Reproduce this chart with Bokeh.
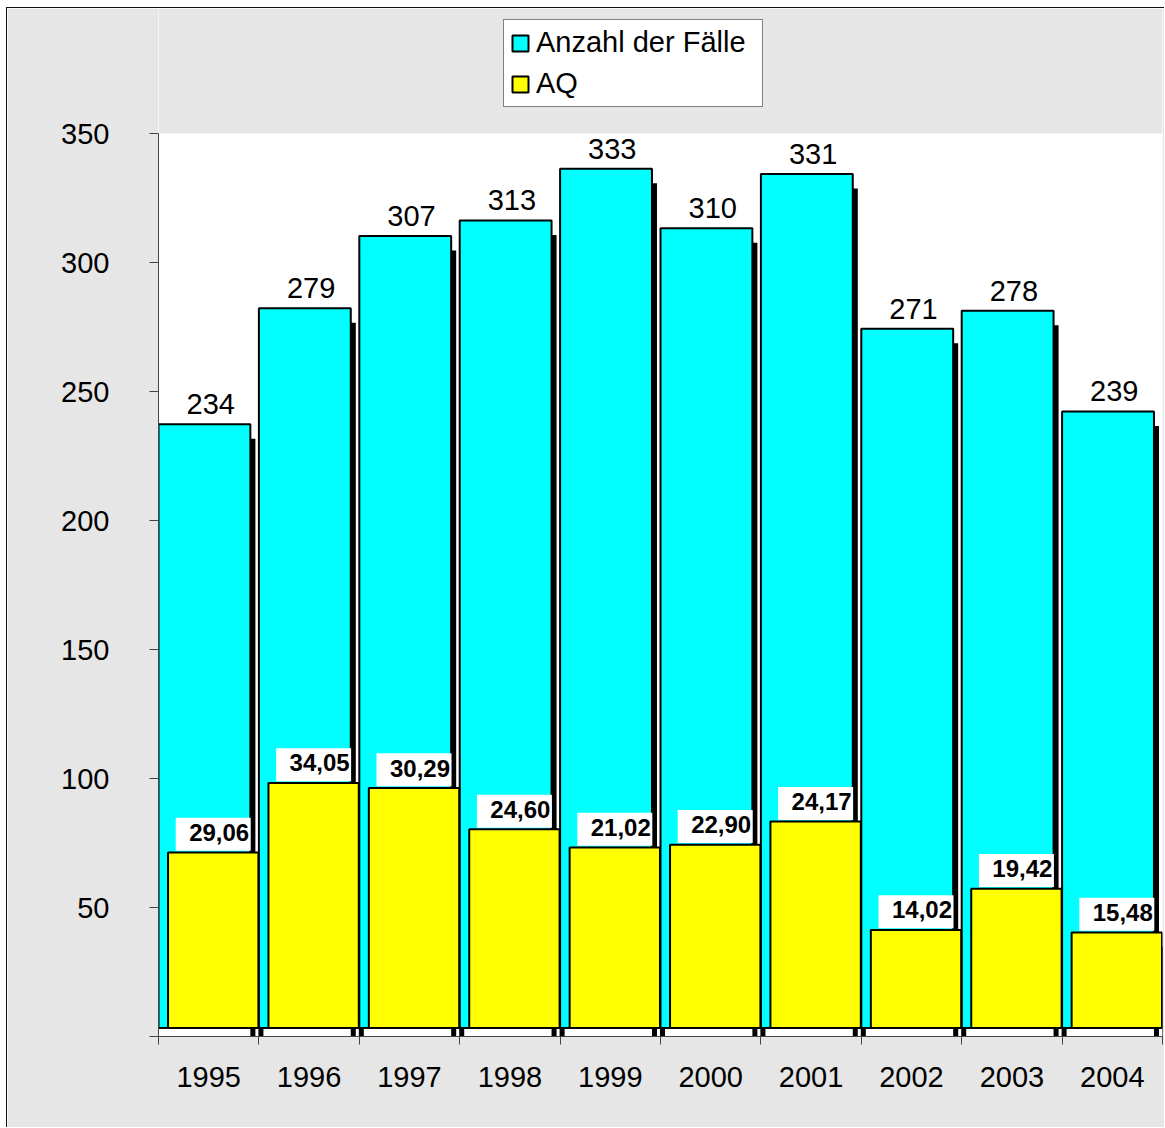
import numpy as np
from bokeh.plotting import figure
from bokeh.models import FixedTicker, Range1d, Legend, LegendItem, BoxAnnotation
from bokeh.core.properties import value
from bokeh.embed import file_html
from bokeh.resources import INLINE

# ---- data ----
years = ["1995", "1996", "1997", "1998", "1999", "2000", "2001", "2002", "2003", "2004"]
faelle = [234, 279, 307, 313, 333, 310, 331, 271, 278, 239]          # Anzahl der Fälle
aq_faelle = [68, 95, 93, 77, 70, 71, 80, 38, 54, 37]                 # AQ bar heights (cases)
aq_labels = ["29,06", "34,05", "30,29", "24,60", "21,02", "22,90", "24,17", "14,02", "19,42", "15,48"]
y_ticks = [0, 50, 100, 150, 200, 250, 300, 350]

FONT = "Liberation Sans"
CYAN = "#00FFFF"
YELLOW = "#FFFF00"
BG = "#e6e6e6"

n = len(years)
idx = np.arange(n, dtype=float)
f = np.array(faelle, dtype=float)
a = np.array(aq_faelle, dtype=float)

Y_MAX = 350.0
ppu = 903.0 / Y_MAX             # pixels per data unit (vertical)
ppx = 100.4                     # pixels per category (horizontal)
FRAME_H = 1028.0
lift = 8.5 / ppu                # 3D front-face lift
drop = 6.0 / ppu                # shadow top drop

p = figure(width=1158, height=1120, output_backend="svg", toolbar_location=None,
           x_range=Range1d(0, n), y_range=Range1d(0, FRAME_H / ppu),
           min_border_left=151, min_border_right=3, min_border_top=0, min_border_bottom=92)
p.border_fill_color = BG
p.background_fill_color = "white"
p.outline_line_color = None
p.xgrid.visible = False
p.ygrid.visible = False
p.styles = {"margin-left": "6px", "margin-top": "7px",
            "border-left": "1px solid #111", "border-top": "1px solid #111"}

# textured area above the plot region
p.add_layout(BoxAnnotation(bottom=Y_MAX, fill_color=BG, fill_alpha=1.0, line_color=None, level="underlay"))

# shadows (3D sides)
p.quad(left=idx + 0.915, right=idx + 0.965, bottom=0, top=f - drop,
       fill_color="black", line_color=None)
p.quad(left=idx + 0.995, right=idx + 1.045, bottom=0, top=a - drop,
       fill_color="black", line_color=None)
# front faces
r_cyan = p.quad(left=idx, right=idx + 0.915, bottom=lift, top=f + lift,
                fill_color=CYAN, line_color="black", line_width=2)
r_yel = p.quad(left=idx + 0.095, right=idx + 0.995, bottom=lift, top=a + lift,
               fill_color=YELLOW, line_color="black", line_width=2)

# value labels on cyan bars
p.text(x=idx + 0.52, y=f + lift + 20.0 / ppu, text=[str(v) for v in faelle],
       text_font=value(FONT), text_font_size="29px", text_color="black",
       text_align="center", text_baseline="alphabetic")

# AQ labels with white boxes
p.rect(x=idx + 0.545, y=a + lift + 18.2 / ppu, width=75, height=33,
       width_units="screen", height_units="screen",
       fill_color="white", line_color=None)
p.text(x=idx + 0.545 + 36.0 / ppx, y=a + lift + 20.0 / ppu, text=aq_labels,
       text_font=value(FONT), text_font_size="24px", text_font_style="bold",
       text_color="black", text_align="right", text_baseline="alphabetic")

# axes
ax_col = "#444444"
p.yaxis.bounds = (0, Y_MAX)
p.yaxis.ticker = FixedTicker(ticks=y_ticks)
p.yaxis.major_label_overrides = {0: ""}
p.yaxis.major_tick_out = 9
p.yaxis.major_tick_in = 0
p.yaxis.minor_tick_line_color = None
p.yaxis.axis_line_color = ax_col
p.yaxis.major_tick_line_color = ax_col
p.yaxis.major_label_standoff = 40
p.yaxis.major_label_text_font = FONT
p.yaxis.major_label_text_font_size = "29px"
p.yaxis.major_label_text_color = "black"

centers = [i + 0.5 for i in range(n)]
p.xaxis.ticker = FixedTicker(ticks=centers, minor_ticks=list(range(n + 1)))
p.xaxis.major_label_overrides = {c: y for c, y in zip(centers, years)}
p.xaxis.major_tick_line_color = None
p.xaxis.major_tick_out = 0
p.xaxis.major_tick_in = 0
p.xaxis.minor_tick_out = 8
p.xaxis.minor_tick_in = 0
p.xaxis.minor_tick_line_color = ax_col
p.xaxis.axis_line_color = ax_col
p.xaxis.major_label_standoff = 22
p.xaxis.major_label_text_font = FONT
p.xaxis.major_label_text_font_size = "29px"
p.xaxis.major_label_text_color = "black"

legend = Legend(items=[LegendItem(label="Anzahl der Fälle", renderers=[r_cyan]),
                       LegendItem(label="AQ", renderers=[r_yel])],
                location=(345, 929))
legend.border_line_color = "black"
legend.border_line_width = 1
legend.background_fill_color = "white"
legend.background_fill_alpha = 1.0
legend.label_text_font = FONT
legend.label_text_font_size = "29px"
legend.label_text_color = "black"
legend.label_width = 220
legend.glyph_width = 20
legend.glyph_height = 20
legend.label_standoff = 6
legend.padding = 6
legend.spacing = 8
legend.margin = 0
p.add_layout(legend)

open("out.html", "w").write(file_html(p, INLINE))
